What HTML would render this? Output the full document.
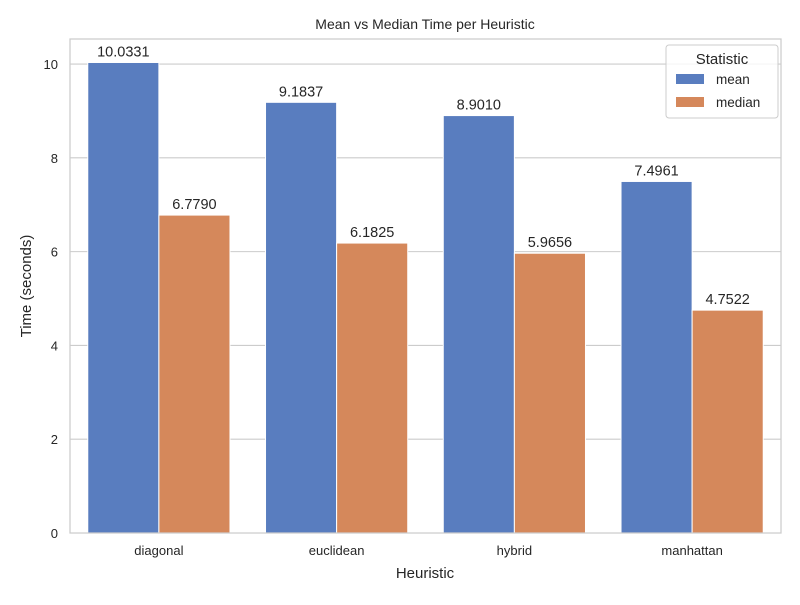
<!DOCTYPE html>
<html><head><meta charset="utf-8"><style>
body{margin:0;background:#fff;font-family:"Liberation Sans","DejaVu Sans",sans-serif}
svg text{font-family:"Liberation Sans","DejaVu Sans",sans-serif;fill:#262626}
</style></head><body>
<svg id="chart" width="800" height="600">
<rect x="0" y="0" width="800" height="600" fill="#fff"/>
<g id="grid"></g>
<g id="bars"></g>
<g id="labels"></g>
<rect x="70" y="39" width="711" height="494" fill="none" stroke="#cccccc" stroke-width="1.25"/>
<text x="425" y="29" text-anchor="middle" font-size="14">Mean vs Median Time per Heuristic</text>
<text x="425" y="578" text-anchor="middle" font-size="15">Heuristic</text>
<text x="31" y="286" text-anchor="middle" font-size="15" transform="rotate(-90 31 286)">Time (seconds)</text>
<g>
<rect x="666" y="45" width="112" height="73" rx="3" fill="#fff" fill-opacity="0.8" stroke="#cccccc"/>
<text x="722" y="64" text-anchor="middle" font-size="15">Statistic</text>
<rect x="676" y="74" width="28" height="10" fill="#597dbf"/>
<text x="716" y="84" font-size="13.5">mean</text>
<rect x="676" y="97" width="28" height="10" fill="#d5885b"/>
<text x="716" y="107" font-size="13.5">median</text>
</g>
</svg>
<script>
const categories=["diagonal","euclidean","hybrid","manhattan"];
const meanValues=[10.0331,9.1837,8.9010,7.4961];
const medianValues=[6.7790,6.1825,5.9656,4.7522];
const yTicks=[0,2,4,6,8,10];
const NS="http://www.w3.org/2000/svg";
const L=70,R=781,B=533,T=39,yMax=10.534;
const y=v=>B-(v/yMax)*(B-T);
const band=(R-L)/categories.length;
const xc=i=>L+band*(i+0.5);
function mk(tag,attrs,parent,text){const e=document.createElementNS(NS,tag);for(const k in attrs)e.setAttribute(k,attrs[k]);if(text!==undefined)e.textContent=text;document.getElementById(parent).appendChild(e);return e;}
yTicks.forEach(t=>{
 const l=mk("line",{x1:L,x2:R,y1:y(t),y2:y(t),stroke:"#cccccc","stroke-width":1.1},"grid");
 
 
 const tx=mk("text",{x:L-12,y:y(t)+5,"text-anchor":"end","font-size":13},"labels",String(t));
 
 
});
const bw=band*0.4;
categories.forEach((c,i)=>{
 const series=[[meanValues[i],"#597dbf","mean",xc(i)-bw],[medianValues[i],"#d5885b","median",xc(i)]];
 series.forEach(([v,col,nm,x0])=>{
  const r=mk("rect",{x:x0,y:y(v),width:bw,height:B-y(v),fill:col,stroke:"#fff","stroke-width":1},"bars");
  
  
  const t=mk("text",{x:x0+bw/2,y:y(v)-6,"text-anchor":"middle","font-size":14.5},"labels",v.toFixed(4));
  
  
 });
 const xl=mk("text",{x:xc(i),y:B+22,"text-anchor":"middle","font-size":13},"labels",c);
 
 
});
</script>
</body></html>
